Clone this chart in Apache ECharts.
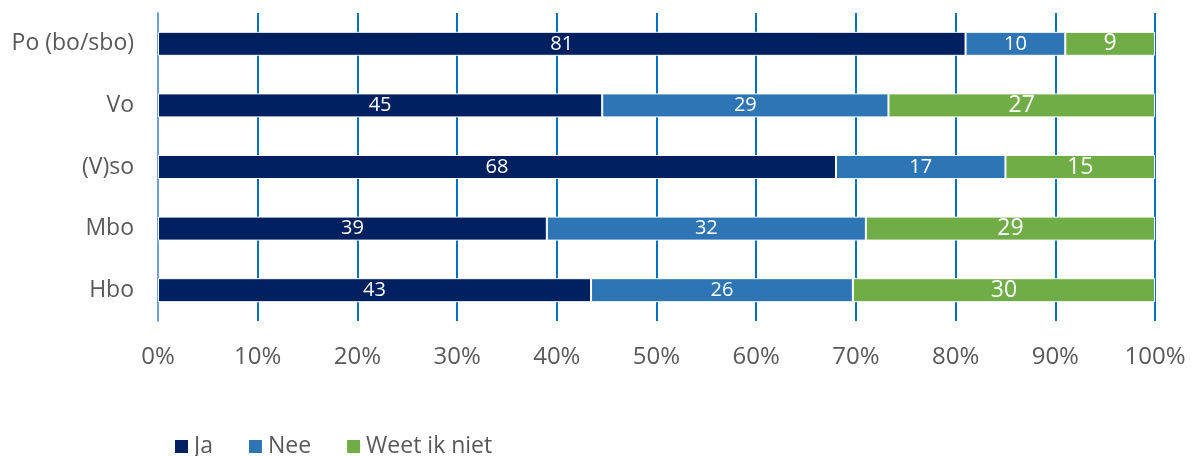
<!DOCTYPE html>
<html><head><meta charset="utf-8">
<script src="https://cdn.jsdelivr.net/npm/echarts@6/dist/echarts.min.js"></script>
<style>html,body{margin:0;padding:0;background:#fff}#c{width:1193px;height:456px}</style>
</head><body><div id="c"></div>
<script>
const categories = ['Po (bo/sbo)', 'Vo', '(V)so', 'Mbo', 'Hbo'];
const ja = [81, 45, 68, 39, 43];
const nee = [10, 29, 17, 32, 26];
const weet = [9, 27, 15, 29, 30];
const seriesNames = ['Ja', 'Nee', 'Weet ik niet'];
const colors = ['#002060', '#2e75b6', '#70ad47'];

const totals = categories.map((c, i) => ja[i] + nee[i] + weet[i]);
function norm(arr) { return arr.map((v, i) => ({ value: v / totals[i] * 100, raw: v })); }
const font = '"Open Sans", "Noto Sans", sans-serif';

const chart = echarts.init(document.getElementById('c'), null, { renderer: 'canvas' });
const mk = (name, arr, color, fs) => ({
  name, type: 'bar', stack: 'total', barWidth: 24,
  data: norm(arr),
  itemStyle: { color, borderColor: '#ffffff', borderWidth: 1 },
  label: { show: true, position: 'inside', color: '#ffffff', fontFamily: font, fontSize: fs,
    formatter: p => p.data.raw },
  emphasis: { disabled: true }
});
chart.setOption({
  animation: false,
  textStyle: { fontFamily: font },
  grid: { left: 158, right: 38, top: 13, bottom: 135, containLabel: false },
  xAxis: {
    type: 'value', min: 0, max: 100, interval: 10,
    axisLine: { show: false }, axisTick: { show: false },
    splitLine: { show: true, lineStyle: { color: '#0070c0', width: 2 } },
    axisLabel: { formatter: '{value}%', color: '#595959', fontSize: 24, fontFamily: font, margin: 24 }
  },
  yAxis: {
    type: 'category', data: categories, inverse: true,
    axisLine: { show: true, lineStyle: { color: '#6fa0dc', width: 2 } },
    axisTick: { show: false },
    axisLabel: { color: '#595959', fontSize: 23, fontFamily: font, margin: 24 }
  },
  legend: {
    top: 430, left: 168, itemWidth: 15, itemHeight: 15, itemGap: 34,
    icon: 'rect',
    textStyle: { color: '#595959', fontSize: 23, fontFamily: font },
    data: seriesNames
  },
  series: [
    mk(seriesNames[0], ja, colors[0], 20),
    mk(seriesNames[1], nee, colors[1], 20),
    mk(seriesNames[2], weet, colors[2], 23)
  ]
});
</script></body></html>
